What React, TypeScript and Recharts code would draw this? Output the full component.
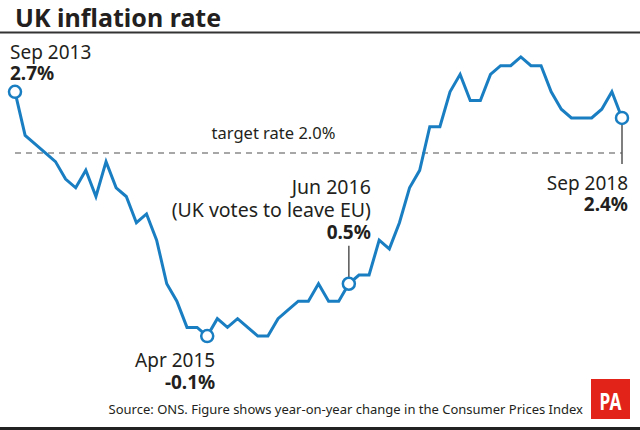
import React from "react";
import { LineChart, Line, XAxis, YAxis, ReferenceLine } from "recharts";

const months: string[] = [
  "Sep 2013","Oct 2013","Nov 2013","Dec 2013",
  "Jan 2014","Feb 2014","Mar 2014","Apr 2014","May 2014","Jun 2014","Jul 2014","Aug 2014","Sep 2014","Oct 2014","Nov 2014","Dec 2014",
  "Jan 2015","Feb 2015","Mar 2015","Apr 2015","May 2015","Jun 2015","Jul 2015","Aug 2015","Sep 2015","Oct 2015","Nov 2015","Dec 2015",
  "Jan 2016","Feb 2016","Mar 2016","Apr 2016","May 2016","Jun 2016","Jul 2016","Aug 2016","Sep 2016","Oct 2016","Nov 2016","Dec 2016",
  "Jan 2017","Feb 2017","Mar 2017","Apr 2017","May 2017","Jun 2017","Jul 2017","Aug 2017","Sep 2017","Oct 2017","Nov 2017","Dec 2017",
  "Jan 2018","Feb 2018","Mar 2018","Apr 2018","May 2018","Jun 2018","Jul 2018","Aug 2018","Sep 2018",
];

const cpi: number[] = [
  2.7, 2.2, 2.1, 2.0,
  1.9, 1.7, 1.6, 1.8, 1.5, 1.9, 1.6, 1.5, 1.2, 1.3, 1.0, 0.5,
  0.3, 0.0, 0.0, -0.1, 0.1, 0.0, 0.1, 0.0, -0.1, -0.1, 0.1, 0.2,
  0.3, 0.3, 0.5, 0.3, 0.3, 0.5, 0.6, 0.6, 1.0, 0.9, 1.2, 1.6,
  1.8, 2.3, 2.3, 2.7, 2.9, 2.6, 2.6, 2.9, 3.0, 3.0, 3.1, 3.0,
  3.0, 2.7, 2.5, 2.4, 2.4, 2.4, 2.5, 2.7, 2.4,
];

const targetRate = 2.0;
const highlighted: string[] = ["Sep 2013", "Apr 2015", "Jun 2016", "Sep 2018"];
const highlightNotes: Record<string, string> = { "Jun 2016": "(UK votes to leave EU)" };

const data = months.map((m, i) => ({ idx: i, month: m, value: cpi[i] }));

const FONT = "'Noto Sans', 'Open Sans', sans-serif";
const BLUE = "#1a7ec2";
const INK = "#231f20";

const fmt = (v: number) => `${v.toFixed(1)}%`;

const HighlightDot = (props: any) => {
  const { cx, cy, payload, index } = props;
  if (!payload || !highlighted.includes(payload.month)) return <g key={`d${index}`} />;
  const m = payload.month;
  const v = fmt(payload.value);
  let ann: React.ReactNode = null;
  if (m === "Sep 2013") {
    ann = (
      <g>
        <text x={cx - 5} y={cy - 33} fontSize={19} fill={INK} fontFamily={FONT}>{m}</text>
        <text x={cx - 5} y={cy - 12} fontSize={19} fontWeight="bold" fill={INK} fontFamily={FONT}>{v}</text>
      </g>
    );
  } else if (m === "Apr 2015") {
    ann = (
      <g>
        <text x={cx + 8} y={cy + 31} fontSize={19} textAnchor="end" fill={INK} fontFamily={FONT}>{m}</text>
        <text x={cx + 8} y={cy + 53} fontSize={19} fontWeight="bold" textAnchor="end" fill={INK} fontFamily={FONT}>{v}</text>
      </g>
    );
  } else if (m === "Jun 2016") {
    ann = (
      <g>
        <line x1={cx} y1={cy - 6} x2={cx} y2={cy - 38} stroke="#555" strokeWidth={1.5} />
        <text x={cx + 22} y={cy - 90} fontSize={19.5} textAnchor="end" fill={INK} fontFamily={FONT}>{m}</text>
        <text x={cx + 22} y={cy - 67} fontSize={19.5} textAnchor="end" fill={INK} fontFamily={FONT}>{highlightNotes[m]}</text>
        <text x={cx + 22} y={cy - 45} fontSize={19} fontWeight="bold" textAnchor="end" fill={INK} fontFamily={FONT}>{v}</text>
      </g>
    );
  } else if (m === "Sep 2018") {
    ann = (
      <g>
        <line x1={cx} y1={cy + 6} x2={cx} y2={cy + 46} stroke="#555" strokeWidth={1.5} />
        <text x={cx + 6} y={cy + 72} fontSize={19} textAnchor="end" fill={INK} fontFamily={FONT}>{m}</text>
        <text x={cx + 6} y={cy + 93} fontSize={19} fontWeight="bold" textAnchor="end" fill={INK} fontFamily={FONT}>{v}</text>
      </g>
    );
  }
  return (
    <g key={`d${index}`}>
      {ann}
      <circle cx={cx} cy={cy} r={6} fill="#fff" stroke={BLUE} strokeWidth={2.5} />
    </g>
  );
};

export default function App() {
  return (
    <div style={{ position: "absolute", left: 0, top: 0, width: 640, height: 430, background: "#fff", overflow: "hidden" }}>
      <svg width={640} height={430} style={{ position: "absolute", left: 0, top: 0 }}>
        <text x={15} y={26.5} fontSize={25} fontWeight="bold" fill={INK} fontFamily={FONT}>UK inflation rate</text>
        <line x1={0} y1={32.5} x2={640} y2={32.5} stroke="#333" strokeWidth={2} />
        <text x={583} y={414} fontSize={13} textAnchor="end" fill={INK} fontFamily={FONT}>
          Source: ONS. Figure shows year-on-year change in the Consumer Prices Index
        </text>
        <rect x={591} y={379} width={39} height={40} fill="#e2231a" />
        <text x={610.5} y={410} fontSize={24} fontWeight="bold" textAnchor="middle" fill="#fff" fontFamily={FONT} transform="translate(610.5 0) scale(0.72 1) translate(-610.5 0)">PA</text>
        <line x1={0} y1={428.5} x2={640} y2={428.5} stroke="#222" strokeWidth={3} />
      </svg>
      <div style={{ position: "absolute", left: 0, top: 0 }}>
        <LineChart width={640} height={430} data={data} margin={{ top: 22, right: 18, bottom: 59, left: 15 }}>
          <XAxis dataKey="idx" type="number" domain={[0, 60]} hide />
          <YAxis type="number" domain={[-0.5, 3.5]} hide />
          <ReferenceLine
            y={targetRate}
            stroke="#8a8a8a"
            strokeWidth={1.5}
            strokeDasharray="6 5"
            segment={[{ x: 0, y: targetRate }, { x: 59.4, y: targetRate }]}
            label={{ value: `target rate ${targetRate.toFixed(1)}%`, position: "insideBottom", fontSize: 16.5, fill: INK, fontFamily: FONT, dy: -9, dx: -45 }}
          />
          <Line
            type="linear"
            dataKey="value"
            stroke={BLUE}
            strokeWidth={3}
            strokeLinejoin="miter"
            dot={HighlightDot}
            activeDot={false}
            isAnimationActive={false}
          />
        </LineChart>
      </div>
    </div>
  );
}
